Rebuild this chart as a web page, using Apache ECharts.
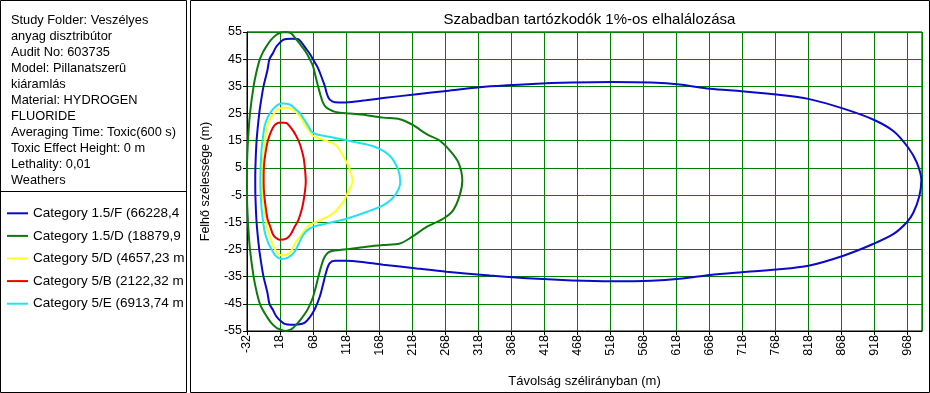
<!DOCTYPE html>
<html><head><meta charset="utf-8">
<script src="https://cdn.jsdelivr.net/npm/echarts@6/dist/echarts.min.js"></script>
<style>html,body{margin:0;padding:0;background:#fff}#c{width:930px;height:393px}</style>
</head><body><div id="c"></div>
<script>
const FONT = '"Liberation Sans", Arial, sans-serif';
const chartTitle = 'Szabadban tartózkodók 1%-os elhalálozása';
const xAxisName = 'Távolság szélirányban (m)';
const yAxisName = 'Felhő szélessége (m)';
const infoLines = [
  'Study Folder: Veszélyes', 'anyag disztribútor', 'Audit No: 603735',
  'Model: Pillanatszerû', 'kiáramlás', 'Material: HYDROGEN', 'FLUORIDE',
  'Averaging Time: Toxic(600 s)', 'Toxic Effect Height: 0 m', 'Lethality: 0,01', 'Weathers'
];
const seriesNames = ['Category 1.5/F (66228,4', 'Category 1.5/D (18879,9', 'Category 5/D (4657,23 m', 'Category 5/B (2122,32 m', 'Category 5/E (6913,74 m'];
const seriesColors = ['#0A0AC8', '#0E7A0E', '#FFFF1E', '#E80000', '#22E2F2'];
const xRange = [-32, 990], xStep = 50;
const yRange = [-55, 55], yStep = 10;

// Category 1.5/F contour [distance, width]
const cat15F = [[27,52.4],[36,52.5],[45,52.4],[51,51],[57,49],[63,47],[69,44.5],[75,42],[80,39],[83,37],[86,35],[88,33],[91,31],[94,30],[101,29.2],[118,29.1],[148,29.9],[174,30.7],[225,32.1],[270,33.3],[336,35],[400,35.9],[460,36.4],[520,36.6],[580,36.4],[623,35.7],[669,34.1],[717,33.2],[770,32],[818,30.4],[871,26.8],[916,22.8],[947,18.5],[969,12.5],[982,7],[989,0.5],[986,-5.3],[977,-11.4],[967,-15],[947,-19.3],[916,-23],[871,-27.3],[818,-31],[770,-32.4],[717,-33.4],[669,-34.4],[623,-35.8],[580,-36.5],[520,-36.7],[460,-36.4],[400,-35.7],[336,-34.6],[270,-33.2],[225,-32],[174,-30.6],[148,-29.8],[118,-29.2],[101,-29.2],[93,-30.1],[88,-33.2],[83,-38],[78,-42.5],[70.5,-47],[63,-50],[55,-52],[45,-52.6],[35,-52.7],[25,-52.4],[17.5,-51],[12,-49.5],[7.4,-47.3],[2,-45],[-1,-41],[-7,-35],[-10.5,-30],[-13.5,-25],[-17.5,-15],[-19.3,-5],[-19.5,0],[-19.3,5],[-17.5,15],[-13.5,25],[-10.5,30],[-7,35],[-1,41],[2,45],[7.4,47.3],[12,49.5],[17.5,51],[22,52],[27,52.4]];
// Category 1.5/D
const cat15D = [[27,55],[35,54.5],[42.8,52.2],[50,50],[58,47.3],[63,45],[68,42.4],[72,38.5],[75.6,35],[79,32],[83,29],[88,27.2],[93,26.5],[100,25.7],[108.5,25.3],[123.6,25],[149,24.4],[174,23.5],[199.5,22.9],[219.5,20.7],[240,17.4],[260,15],[275.5,11.3],[288,7],[294,0.4],[290,-5.1],[280,-10.6],[265,-13.7],[240,-16.7],[217.6,-20.4],[199.5,-22.8],[174,-23.4],[149,-24],[123.6,-24.8],[108,-25.2],[98,-25.5],[90,-26.3],[84,-28.5],[80,-31.5],[75.6,-35.5],[72,-39],[68,-42.5],[63,-45.5],[58,-47.8],[50,-50.5],[42.8,-52.6],[35,-54.4],[26,-55],[17,-54.3],[12.5,-53.8],[4,-51.8],[-2.6,-49.5],[-8,-47.3],[-12.5,-45],[-17,-41],[-22,-35],[-27.5,-25],[-30.5,-15],[-32,-5],[-32,0],[-32,5],[-30.5,15],[-27.5,25],[-22,35],[-17,41],[-12.5,45],[-8,47.5],[-2.6,49.7],[4,52],[12.5,54],[20,54.8],[27,55]];
// Category 5/D
const cat5D = [[25,27.2],[32,27],[40,26],[45,24.8],[50,23.3],[55,21],[60.4,19.3],[66,17.2],[73,16.2],[88,15],[103.4,13.2],[116,8.3],[123.5,4.6],[127.6,0],[121,-3.9],[113.5,-7.6],[98,-11.8],[78,-14.3],[63,-16],[55,-18],[48,-20.5],[42.6,-22],[35,-25.5],[27,-27],[20,-27.2],[12,-25.5],[7.4,-23.4],[0,-18.5],[-4,-13],[-7.8,-6],[-8.8,0],[-7.8,8],[-5,14],[-2.7,19.3],[2,22.5],[7.4,24.5],[15,26.5],[25,27.2]];
// Category 5/B
const cat5B = [[17.5,21.7],[27.6,21.5],[33,20.2],[37.7,18.7],[43,16.5],[48,13.8],[52,10.5],[54,8.3],[56,4],[57,0],[56.5,-2],[55.6,-3.9],[53,-8],[50.5,-10.6],[46,-14],[40,-16.7],[34,-19.5],[27.6,-21],[17.5,-21.4],[12,-20.8],[7.4,-19.5],[3,-16.5],[-1,-13.7],[-4.5,-8],[-6.5,-3],[-6.8,1],[-6.3,5.9],[-4,10.5],[-1,14.4],[3,17.5],[7.4,19.9],[12,21.2],[17.5,21.7]];
// Category 5/E
const cat5E = [[22.5,28.8],[30,28.5],[35,28],[42,26.5],[48,25.2],[54,23],[60.4,20.5],[66,18.3],[73,17.4],[98,16.2],[133.7,14.4],[163,12.6],[184,9.5],[196.5,4.6],[200,-0.2],[192,-5.1],[174,-8.8],[149,-11.2],[118.5,-13.7],[88,-15.5],[68,-16.7],[60,-17.8],[52.8,-19.8],[46,-23],[40.2,-25.9],[30,-28],[20,-28.5],[12,-27.5],[7.4,-25.9],[0,-22.5],[-5.2,-18.5],[-9,-12],[-10.3,-8.8],[-11.8,0],[-10.3,10.7],[-7.5,17],[-5.2,20.5],[0,24],[7.4,26.6],[15,28.3],[22.5,28.8]];
const seriesData = [cat15F, cat15D, cat5D, cat5B, cat5E];

const chart = echarts.init(document.getElementById('c'), null, {renderer: 'canvas'});
const txt = {color: '#000', fontFamily: FONT, fontSize: 12.5};
chart.setOption({
  animation: false,
  backgroundColor: '#fff',
  title: {text: chartTitle, left: 584.5, top: 7, textAlign: 'center',
    textStyle: {color: '#000', fontFamily: FONT, fontSize: 15, fontWeight: 'normal'}},
  legend: {
    data: seriesNames, orient: 'vertical', left: 2, top: 201, icon: 'rect',
    itemWidth: 21, itemHeight: 2, itemGap: 8, selectedMode: false,
    textStyle: {color: '#000', fontFamily: FONT, fontSize: 13.5, lineHeight: 14.6}
  },
  grid: {left: 247, top: 32, right: 8, bottom: 61, show: true, borderColor: '#000', borderWidth: 1, containLabel: false},
  xAxis: {
    type: 'value', min: xRange[0], max: xRange[1], interval: xStep,
    name: xAxisName, nameLocation: 'middle', nameGap: 44, nameTextStyle: Object.assign({}, txt, {fontSize: 13}),
    axisLine: {onZero: false, lineStyle: {color: '#000'}},
    axisTick: {show: true, length: 4, lineStyle: {color: '#000'}},
    axisLabel: Object.assign({rotate: 90, margin: 4, showMaxLabel: false}, txt),
    splitLine: {show: true, lineStyle: {color: '#007F00', width: 1}}
  },
  yAxis: {
    type: 'value', min: yRange[0], max: yRange[1], interval: yStep,
    name: yAxisName, nameLocation: 'middle', nameGap: 35, nameTextStyle: txt,
    axisLine: {onZero: false, lineStyle: {color: '#000'}},
    axisTick: {show: true, length: 4, lineStyle: {color: '#000'}},
    axisLabel: Object.assign({margin: 5}, txt),
    splitLine: {show: true, lineStyle: {color: '#007F00', width: 1}}
  },
  series: seriesNames.map((n, i) => ({
    name: n, type: 'line', data: seriesData[i], showSymbol: false, symbol: 'none',
    smooth: 0.3, color: seriesColors[i], lineStyle: {width: 2, color: seriesColors[i]}
  })),
  graphic: [
    {type: 'rect', shape: {x: 0.5, y: 0.5, width: 186, height: 392}, style: {fill: 'none', stroke: '#000', lineWidth: 1}},
    {type: 'line', shape: {x1: 0, y1: 191.5, x2: 187, y2: 191.5}, style: {stroke: '#000', lineWidth: 1}},
    {type: 'rect', shape: {x: 190.5, y: 0.5, width: 739, height: 392}, style: {fill: 'none', stroke: '#000', lineWidth: 1}},
    {type: 'text', left: 11, top: 12, style: {text: infoLines.join('\n'), fill: '#000', font: '12.8px ' + FONT, lineHeight: 16}}
  ]
});
</script></body></html>
